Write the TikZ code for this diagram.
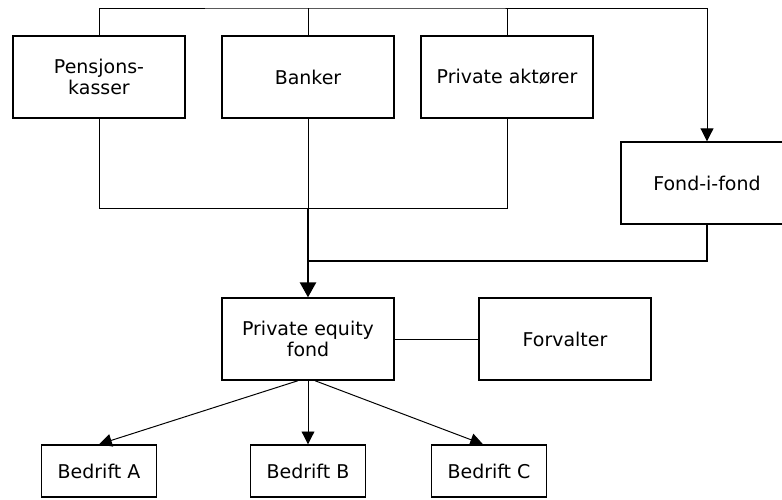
\documentclass[tikz,border=0pt]{standalone}
\usepackage{fontspec}
\setmainfont{DejaVu Sans}
\usetikzlibrary{arrows.meta,positioning}

\begin{document}
\begin{tikzpicture}[node distance=5cm,on grid,
	box/.style={draw,line width=1pt,minimum width=4.3cm,minimum height=2.05cm,align=center,font=\fontsize{13.5}{15}\selectfont},
	small/.style={box,minimum width=2.875cm,minimum height=1.3cm},
	thin/.style={line width=0.7pt},
	heavy/.style={line width=1.4pt},
	>={Triangle[width=0.32cm,length=0.32cm]}]
	\useasboundingbox (0,0) rectangle (19.55,-12.475);
	\clip (0,0) rectangle (19.55,-12.475);
	\node[box] (pk) at (2.475,-1.925) {Pensjons-\\kasser};
	\node[box] (bk) [right=5.225cm of pk] {Banker};
	\node[box] (pa) [right=4.975cm of bk] {Private aktører};
	\node[box] (fif) [below right=2.65cm and 5cm of pa] {Fond-i-fond};
	\node[box] (pe) [below=6.55cm of bk] {Private equity\\fond};
	\node[box] (fv) [right=6.425cm of pe] {Forvalter};
	\node[small] (bb) [below=3.3cm of pe] {Bedrift B};
	\node[small] (ba) [left=5.225cm of bb] {Bedrift A};
	\node[small] (bc) [right=4.525cm of bb] {Bedrift C};
	\coordinate (top) at (0,-0.2);
	\coordinate (low) at (0,-5.2);
	\coordinate (join) at (0,-6.525);
		\draw[thin,->] (pk.north) |- (bk.north |- top) -| (fif.north);
		\draw[thin] (bk.north) -- (bk.north |- top)
			(pa.north) -- (pa.north |- top);
		\draw[thin] (pk.south) |- (pa.south |- low) -- (pa.south);
		\draw[thin] (bk.south) -- (bk.south |- low);
		\draw[heavy] (fif.south) |- (bk.south |- join);
		\draw[heavy,->,>={Triangle[width=0.4cm,length=0.37cm]}] (bk.south |- low) -- (pe.north);
		\draw[thin] (pe) -- (fv);
		\draw[thin,->] ([xshift=-0.25cm]pe.south) -- (ba.north);
		\draw[thin,->] (pe.south) -- (bb.north);
		\draw[thin,->] ([xshift=0.175cm]pe.south) -- ([xshift=-0.15cm]bc.north);
\end{tikzpicture}
\end{document}
